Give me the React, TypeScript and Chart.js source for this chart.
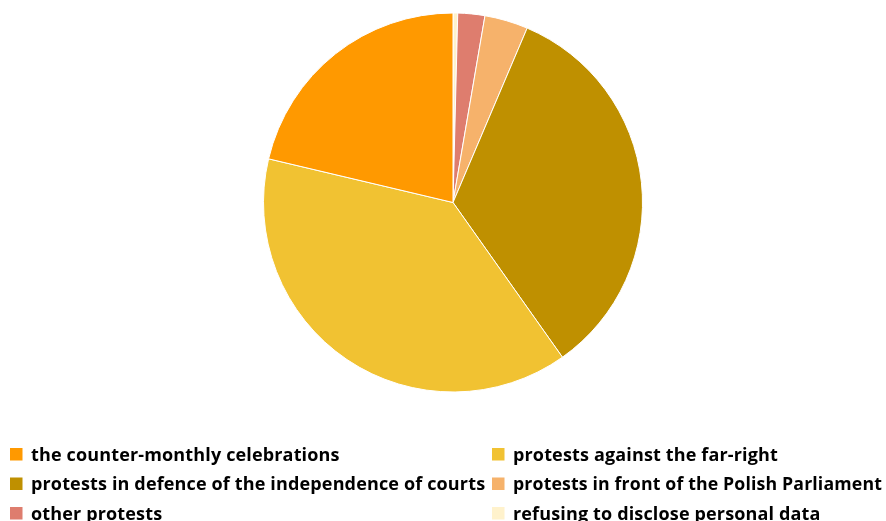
import React, { useEffect, useRef } from "react";
import { Chart, registerables } from "chart.js";

Chart.register(...registerables);

const categories = [
  "the counter-monthly celebrations",
  "protests against the far-right",
  "protests in defence of the independence of courts",
  "protests in front of the Polish Parliament",
  "other protests",
  "refusing to disclose personal data",
];
const shares = [21.3, 38.5, 33.8, 3.7, 2.3, 0.4];
const colors = ["#FF9900", "#F1C232", "#BF9000", "#F6B26B", "#DE7D6E", "#FFF2CC"];

const legendPlugin = {
  id: "gridLegend",
  afterDraw(chart: any) {
    const ctx = chart.ctx;
    ctx.save();
    ctx.font = "bold 18px 'Open Sans'";
    (ctx as any).letterSpacing = "0.15px";
    ctx.textBaseline = "alphabetic";
    categories.forEach((label, i) => {
      const col = i % 2;
      const row = Math.floor(i / 2);
      const sx = col === 0 ? 10 : 492;
      const tx = col === 0 ? 31 : 513;
      const base = 460.5 + row * 29.5;
      ctx.fillStyle = colors[i];
      ctx.fillRect(sx, base - 12.5, 12.5, 12.5);
      ctx.fillStyle = "#000000";
      ctx.fillText(label, tx, base, col === 0 ? 462 : 369);
    });
    ctx.restore();
  },
};

export default function App() {
  const ref = useRef<HTMLCanvasElement>(null);
  useEffect(() => {
    const chart = new Chart(ref.current!, {
      type: "pie",
      data: {
        labels: [...categories].reverse(),
        datasets: [
          {
            data: [...shares].reverse(),
            backgroundColor: [...colors].reverse(),
            borderColor: "#FFFFFF",
            borderWidth: 1,
          },
        ],
      },
      options: {
        responsive: false,
        animation: false,
        layout: { padding: { left: 263, right: 243, top: 12.5, bottom: 128.5 } },
        plugins: { legend: { display: false }, tooltip: { enabled: false } },
      },
      plugins: [legendPlugin],
    });
    return () => chart.destroy();
  }, []);
  return (
    <div style={{ position: "fixed", left: 0, top: 0, width: 886, height: 521, overflow: "hidden", background: "#fff" }}>
      <canvas ref={ref} width={886} height={521} />
    </div>
  );
}
